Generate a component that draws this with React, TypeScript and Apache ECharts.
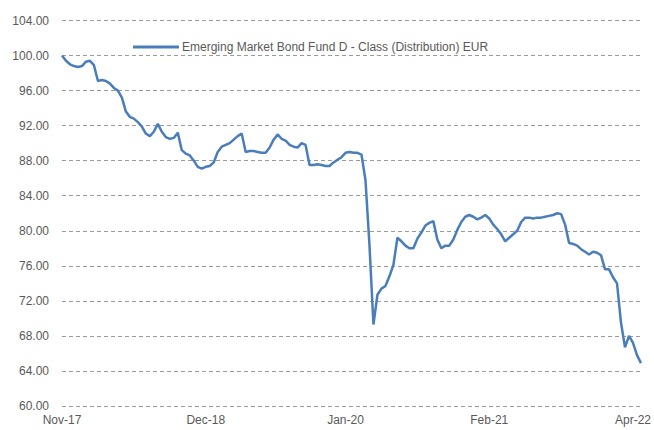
import React, { useEffect, useRef } from "react";
import * as echarts from "echarts";

const seriesName = "Emerging Market Bond Fund D - Class (Distribution) EUR";

const navValues: number[] = [
  100.0, 99.4, 99.0, 98.8, 98.7, 98.8, 99.3, 99.4, 98.9, 97.1,
  97.2, 97.1, 96.8, 96.3, 96.0, 95.2, 93.6, 93.0, 92.8, 92.4,
  91.9, 91.1, 90.8, 91.3, 92.2, 91.3, 90.7, 90.5, 90.6, 91.2,
  89.2, 88.8, 88.6, 88.0, 87.3, 87.1, 87.3, 87.4, 87.8, 89.0,
  89.6, 89.8, 90.0, 90.4, 90.8, 91.1, 89.0, 89.1, 89.1, 89.0,
  88.9, 88.9, 89.5, 90.4, 91.0, 90.5, 90.3, 89.8, 89.6, 89.5,
  90.0, 89.8, 87.5, 87.5, 87.6, 87.5, 87.4, 87.4, 87.8, 88.1,
  88.4, 88.9, 89.0, 88.9, 88.9, 88.7, 85.8, 78.4, 69.3, 72.7,
  73.4, 73.7, 74.8, 76.1, 79.2, 78.8, 78.3, 78.0, 78.0, 79.1,
  79.8, 80.6, 80.9, 81.1, 79.0, 78.0, 78.3, 78.3, 79.0, 80.1,
  81.0, 81.6, 81.8, 81.6, 81.3, 81.5, 81.8, 81.4, 80.7, 80.2,
  79.6, 78.8, 79.2, 79.6, 80.0, 81.0, 81.5, 81.5, 81.4, 81.5,
  81.5, 81.6, 81.7, 81.8, 82.0, 81.9, 80.7, 78.6, 78.5, 78.3,
  77.9, 77.6, 77.3, 77.6, 77.5, 77.2, 75.6, 75.6, 74.7, 74.0,
  69.5, 66.7, 68.0, 67.2, 65.8, 64.9,
];

const tickLabels: string[] = ["Nov-17", "Dec-18", "Jan-20", "Feb-21", "Apr-22"];
const tickIndex: number[] = [0, 36, 71, 107, 143];

const yMin = 60;
const yMax = 104;
const yStep = 4;

const categories: string[] = navValues.map((_, i) => String(i));

export default function App() {
  const ref = useRef<HTMLDivElement>(null);
  useEffect(() => {
    if (!ref.current) return;
    const chart = echarts.init(ref.current, undefined, { renderer: "svg" });
    const font = "'Liberation Sans', Arial, sans-serif";
    chart.setOption({
      animation: false,
      grid: { left: 62, right: 9, top: 20.5, bottom: 24, containLabel: false },
      legend: {
        show: true,
        left: 128,
        top: 36,
        itemWidth: 46,
        itemHeight: 14,
        itemGap: 6,
        textStyle: { fontFamily: font, fontSize: 12, color: "#595959", padding: [0, 0, 0, -2] },
        data: [{ name: seriesName, icon: "path://M0,6 L46,6 L46,9 L0,9 Z" }],
      },
      xAxis: {
        type: "category",
        data: categories,
        boundaryGap: false,
        axisLine: { show: false },
        axisTick: { show: false },
        splitLine: { show: false },
        axisLabel: {
          interval: (index: number) => tickIndex.includes(index),
          formatter: (_v: string, index: number) => {
            const k = tickIndex.indexOf(index);
            return k >= 0 ? tickLabels[k] : "";
          },
          color: "#595959",
          fontFamily: font,
          fontSize: 12,
          margin: 8,
          hideOverlap: false,
        },
      },
      yAxis: {
        type: "value",
        min: yMin,
        max: yMax,
        interval: yStep,
        axisLine: { show: false },
        axisTick: { show: false },
        axisLabel: {
          formatter: (v: number) => v.toFixed(2),
          color: "#595959",
          fontFamily: font,
          fontSize: 12,
          margin: 13,
        },
        splitLine: {
          show: true,
          lineStyle: { color: "#9a9a9a", width: 1, type: [4, 3] },
        },
      },
      series: [
        {
          name: seriesName,
          type: "line",
          data: navValues,
          symbol: "none",
          smooth: false,
          lineStyle: { color: "#4a7ebb", width: 2.5 },
          itemStyle: { color: "#4a7ebb" },
        },
      ],
    });
    return () => chart.dispose();
  }, []);
  return <div ref={ref} style={{ width: 654, height: 430, position: "absolute", left: 0, top: 0 }} />;
}
